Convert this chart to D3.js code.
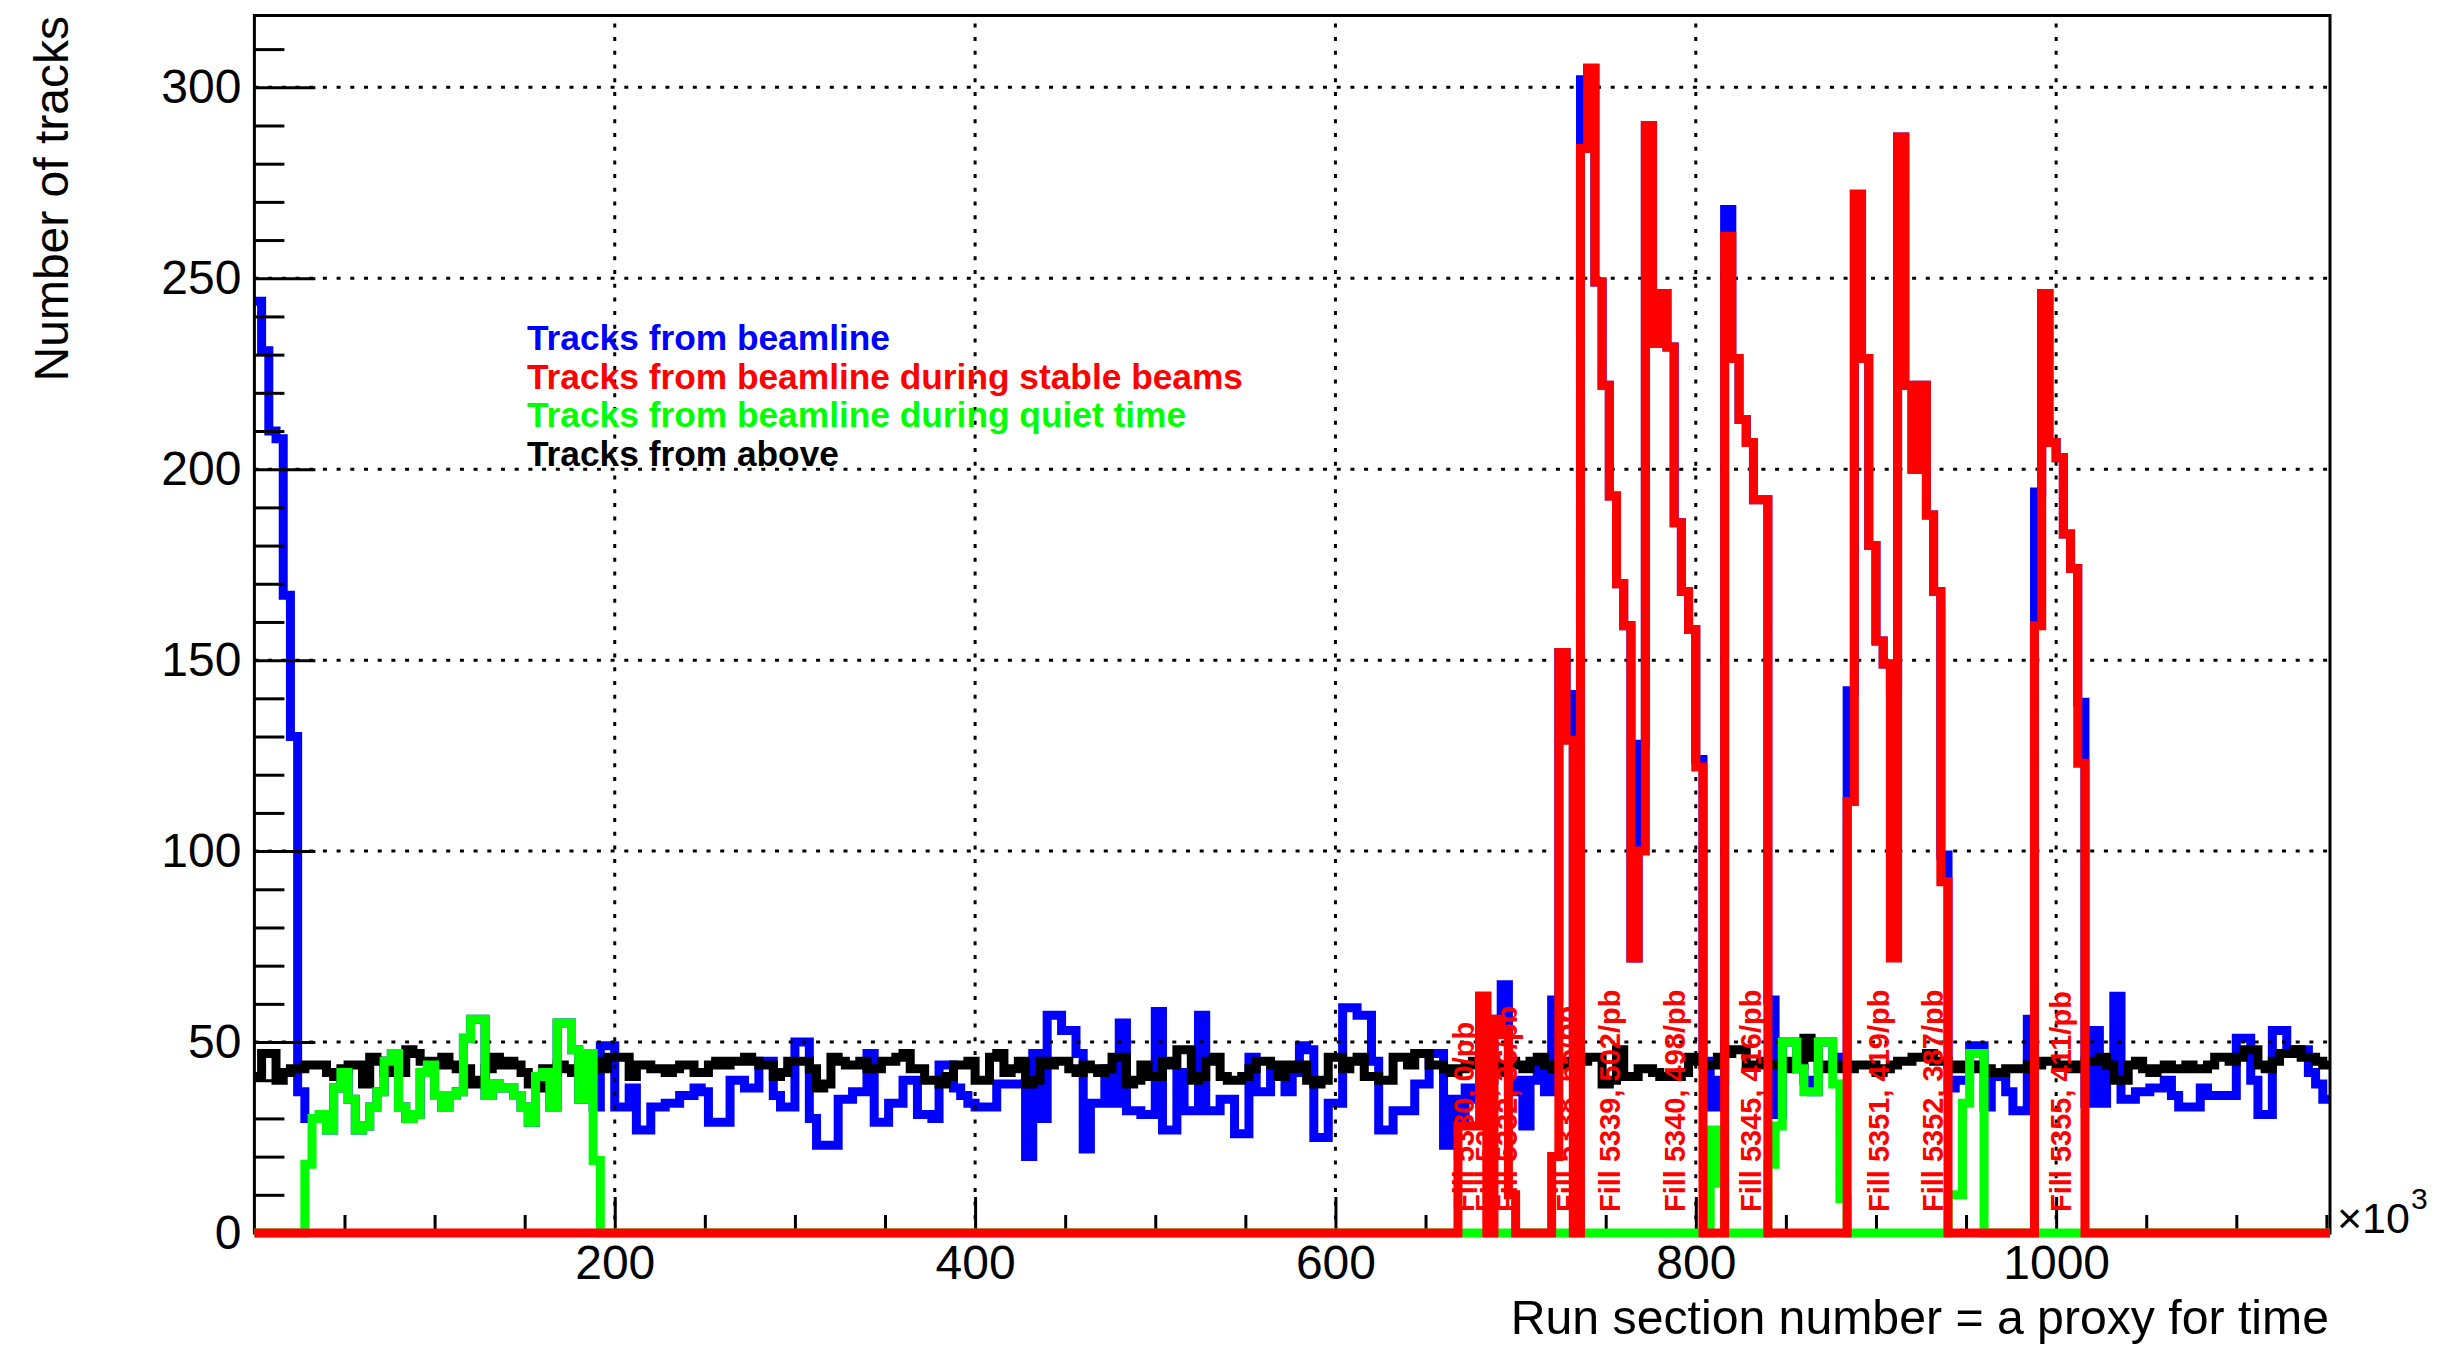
<!DOCTYPE html>
<html><head><meta charset="utf-8">
<script src="https://cdn.jsdelivr.net/npm/d3@7"></script>
<style>body{margin:0;background:#fff}svg{display:block}</style>
</head><body>
<svg id="c" width="2438" height="1353"></svg>
<script>
// ---------------- data ----------------
const binWidth = 4;          // x10^3 run sections
const nBins = 288;           // 0 .. 1152
const xTicksMajor = [200, 400, 600, 800, 1000];
const yTicksMajor = [0, 50, 100, 150, 200, 250, 300];

const blue = [
244,231,210,208,167,130,37,30,30,31, 27,38,42,35,27,28,33,37,45,47,
33,30,31,42,44,36,33,36,37,51, 56,56,36,39,38,38,36,33,29,41,
42,33,55,55,48,35,47,33,49,49, 33,33,38,27,27,33,33,34,34,36,
36,38,37,29,29,29,40,40,38,38, 45,45,36,33,33,50,50,30,23,23,
23,35,35,37,37,47,29,29,34,34, 40,40,31,31,30,44,44,38,36,34,
33,33,33,39,39,39,39,20,47,30, 57,57,53,53,47,22,34,34,43,34,
55,32,32,31,31,58,27,27,42,32, 32,57,32,32,35,35,26,26,46,37,
37,42,41,37,42,49,48,25,25,34, 34,59,59,57,57,45,27,27,32,32,
32,39,39,47,47,23,35,30,38,35, 62,40,56,65,37,40,28,40,43,37,
61,152,141,45,302,305,249,222,193,170, 159,72,128,290,233,246,232,186,168,158,
124,45,33,40,268,229,213,207,192,192, 61,31,50,50,43,40,37,50,50,46,
46,142,272,229,180,155,149,142,287,222, 200,222,188,168,99,38,40,40,49,49,
33,41,41,37,32,32,56,194,246,207, 203,183,174,139,34,53,34,44,62,35,
35,37,37,38,38,40,36,33,33,33, 38,36,36,36,36,51,51,40,31,31,
53,53,48,48,48,42,39,35];

const black = [
41,47,47,40,42,43,43,44,44,44, 42,41,43,44,44,39,46,45,42,43,
42,48,47,45,45,44,46,44,43,43, 39,40,43,46,44,45,44,42,39,38,
43,42,44,43,42,44,43,45,43,46, 46,46,41,44,44,43,43,42,43,44,
44,42,42,44,45,44,45,45,46,45, 44,44,41,42,45,45,45,43,38,39,
46,45,44,44,45,43,43,45,45,46, 47,43,43,40,40,39,41,44,44,45,
40,40,46,47,42,43,45,39,40,45, 44,45,45,43,42,44,43,42,43,46,
46,39,40,44,41,41,45,44,48,48, 40,41,45,46,41,40,40,41,43,45,
45,44,41,44,43,44,40,39,40,46, 46,43,45,46,41,41,40,40,46,46,
44,47,47,44,44,43,42,43,44,45, 43,44,42,44,45,44,43,45,46,44,
43,44,45,44,45,46,46,39,40,48, 41,41,43,43,42,41,41,41,42,46,
45,44,44,46,47,48,48,44,44,45, 44,44,43,45,44,51,46,43,44,43,
44,43,44,44,44,42,43,44,45,45, 46,46,47,45,45,44,43,44,44,43,
43,42,42,43,43,43,44,44,45,45, 44,44,43,44,45,45,46,44,40,40,
44,45,43,42,43,44,43,43,44,43, 43,44,46,46,45,46,48,48,44,43,
45,47,47,48,46,46,45,44];

// sparse series: [first bin, values...]; all other bins are 0
const greenSegments = [
  [7, [18,30,31,27,38,42,35,27,28,33,37,45,47,33,30,31,42,44,36,33,36,37,51,56,56,36,39,38,38,36,33,29,41,42,33,55,55,48,35,47,19]],
  [202, [27,13]],
  [210, [18,28,50,50,43,37,37,50,50,39,9]],
  [235, [10,10,34,47,47]]
];
const redSegments = [
  [167, [28,28,28,62,0,56,52,10]],
  [180, [20,152,129,0,284,305,249,222,193,170,159,72,100,290,233,246,232,186,168,158,122]],
  [204, [261,229,213,207,192,192]],
  [221, [113,272,229,180,155,149,72,287,222,200,222,188,168,92]],
  [247, [159,246,207,203,183,174,123]]
];

const fillLabels = ["Fill 5330, 0/pb","Fill 5331, 5/pb","Fill 5332, 36/pb","Fill 5338, 65/pb",
  "Fill 5339, 502/pb","Fill 5340, 498/pb","Fill 5345, 416/pb","Fill 5351, 419/pb",
  "Fill 5352, 387/pb","Fill 5355, 411/pb"];
const fillLabelX = [677, 689, 701, 734, 758, 794, 836, 907, 937, 1008];

const legendItems = ["Tracks from beamline","Tracks from beamline during stable beams",
  "Tracks from beamline during quiet time","Tracks from above"];
const legendColors = ["#0000ff","#ff0000","#00ff00","#000000"];

// ---------------- layout ----------------
const L = 254.4, R = 2330, T = 15.5, B = 1233;
const FONT = "'Liberation Sans', Arial, Helvetica, sans-serif";
const svg = d3.select("#c");
svg.append("rect").attr("width",2438).attr("height",1353).attr("fill","#fff");

const x = d3.scaleLinear().domain([0, nBins*binWidth]).range([L, R]);
const y = d3.scaleLinear().domain([0, 318.8]).range([B, T]);

function expand(segs){
  const a = new Array(nBins).fill(0);
  segs.forEach(([s, vals]) => vals.forEach((v,i) => a[s+i] = v));
  return a;
}
const green = expand(greenSegments);
const red = expand(redSegments);

const line = d3.line().x(d => x(d[0])).y(d => y(d[1])).curve(d3.curveStepAfter);
function drawHist(vals, color){
  const pts = vals.map((v,i) => [i*binWidth, v]);
  pts.push([nBins*binWidth, vals[vals.length-1]]);
  svg.append("path").attr("d", line(pts)).attr("fill","none")
    .attr("stroke", color).attr("stroke-width", 9)
    .attr("stroke-linejoin","miter").attr("stroke-miterlimit",10);
}

// first histogram
drawHist(blue, "#0000ff");

// grid
const grid = svg.append("g").attr("stroke","#000").attr("stroke-width",3)
  .attr("stroke-dasharray","4,9.7");
xTicksMajor.forEach(v => grid.append("line").attr("x1",x(v)).attr("x2",x(v)).attr("y1",B).attr("y2",T));
yTicksMajor.filter(v=>v>0).forEach(v => grid.append("line").attr("x1",L).attr("x2",R).attr("y1",y(v)).attr("y2",y(v)));

// frame
svg.append("rect").attr("x",L).attr("y",T).attr("width",R-L).attr("height",B-T)
  .attr("fill","none").attr("stroke","#000").attr("stroke-width",3);

// axes
function styleAxis(g){
  g.select(".domain").remove();
  g.selectAll(".tick line").attr("stroke","#000").attr("stroke-width",3);
  g.selectAll("text").attr("font-family",FONT).attr("font-size",48).attr("fill","#000");
}
const yMinor = d3.range(0, 320, 10).filter(v => v % 50 !== 0);
svg.append("g").attr("transform",`translate(${L},0)`)
  .call(d3.axisLeft(y).tickValues(yMinor).tickSize(-30).tickFormat(""))
  .call(styleAxis);
svg.append("g").attr("transform",`translate(${L},0)`)
  .call(d3.axisLeft(y).tickValues(yTicksMajor).tickSize(-61).tickPadding(13).tickFormat(d3.format("d")))
  .call(styleAxis);
const xMinor = d3.range(50, 1151, 50).filter(v => v % 200 !== 0);
svg.append("g").attr("transform",`translate(0,${B})`)
  .call(d3.axisBottom(x).tickValues(xMinor).tickSize(-18).tickFormat(""))
  .call(styleAxis);
svg.append("g").attr("transform",`translate(0,${B})`)
  .call(d3.axisBottom(x).tickValues(xTicksMajor).tickSize(-36).tickPadding(12).tickFormat(d3.format("d")))
  .call(styleAxis);

// other histograms on top
drawHist(black, "#000000");
drawHist(green, "#00ff00");
drawHist(red, "#ff0000");

// fill labels
fillLabels.forEach((t,i) => {
  svg.append("text").attr("transform",`translate(${x(fillLabelX[i])},${y(5.5)}) rotate(-90)`)
    .attr("font-family",FONT).attr("font-weight","bold").attr("font-size",29)
    .attr("fill","#ff0000").text(t);
});

// legend
legendItems.forEach((t,i) => {
  svg.append("text").attr("x",527).attr("y",350 + i*38.5)
    .attr("font-family",FONT).attr("font-weight","bold").attr("font-size",35.3)
    .attr("fill",legendColors[i]).text(t);
});

// axis titles
svg.append("text").attr("transform","translate(68,16) rotate(-90)")
  .attr("text-anchor","end").attr("font-family",FONT).attr("font-size",48).text("Number of tracks");
svg.append("text").attr("x",2329).attr("y",1334).attr("text-anchor","end")
  .attr("font-family",FONT).attr("font-size",48.2).text("Run section number = a proxy for time");
svg.append("text").attr("x",2337).attr("y",1233).attr("font-family",FONT).attr("font-size",43).text("\u00d710");
svg.append("text").attr("x",2411).attr("y",1209).attr("font-family",FONT).attr("font-size",30).text("3");
</script>
</body></html>
